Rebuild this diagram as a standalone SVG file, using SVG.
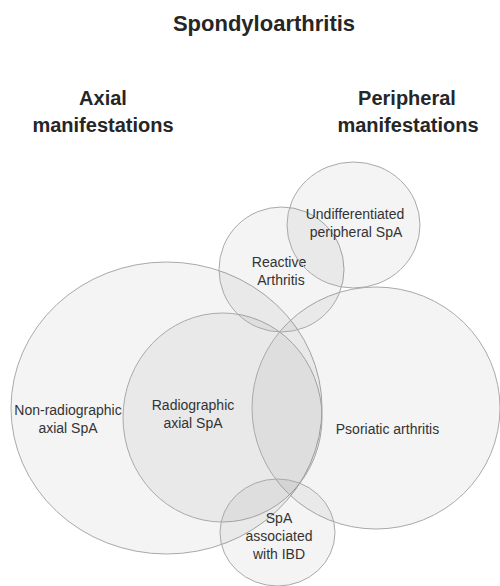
<svg xmlns="http://www.w3.org/2000/svg" width="500" height="586" viewBox="0 0 500 586">
<style>
.c{fill:#000;fill-opacity:0.045;stroke:#a9a9a9;stroke-width:1}
.h{font-family:"Liberation Sans",Arial,sans-serif;font-weight:bold;fill:#262626;text-anchor:middle}
.t{font-family:"Liberation Sans",Arial,sans-serif;font-size:14px;fill:#333;text-anchor:middle}
</style>
<rect width="500" height="586" fill="#fff"/>
<g id="headings">
<text class="h" x="264" y="31" font-size="22">Spondyloarthritis</text>
<text class="h" x="103" y="105" font-size="20">Axial</text>
<text class="h" x="103" y="132" font-size="20">manifestations</text>
<text class="h" x="407" y="105" font-size="20">Peripheral</text>
<text class="h" x="408" y="132" font-size="20">manifestations</text>
</g>
<g id="non-radiographic">
<ellipse class="c" cx="166.5" cy="408" rx="155.5" ry="146"/>
<text class="t" x="68" y="415">Non-radiographic</text>
<text class="t" x="68" y="433">axial SpA</text>
</g>
<g id="radiographic">
<ellipse class="c" cx="222.5" cy="417.5" rx="99.5" ry="104.5"/>
<text class="t" x="193" y="410">Radiographic</text>
<text class="t" x="193" y="428">axial SpA</text>
</g>
<g id="psoriatic">
<ellipse class="c" cx="376" cy="408" rx="124" ry="121"/>
<text class="t" x="387.5" y="434">Psoriatic arthritis</text>
</g>
<g id="reactive">
<ellipse class="c" cx="281.5" cy="269.5" rx="62.5" ry="62.5"/>
<text class="t" x="279" y="267">Reactive</text>
<text class="t" x="281" y="285">Arthritis</text>
</g>
<g id="undifferentiated">
<ellipse class="c" cx="353.5" cy="225" rx="66.5" ry="63"/>
<text class="t" x="355" y="219">Undifferentiated</text>
<text class="t" x="356" y="237">peripheral SpA</text>
</g>
<g id="ibd">
<ellipse class="c" cx="277.5" cy="532.5" rx="57.5" ry="53.5"/>
<text class="t" x="279" y="523">SpA</text>
<text class="t" x="279" y="541">associated</text>
<text class="t" x="279" y="559">with IBD</text>
</g>
<g id="connectors"/>
</svg>
